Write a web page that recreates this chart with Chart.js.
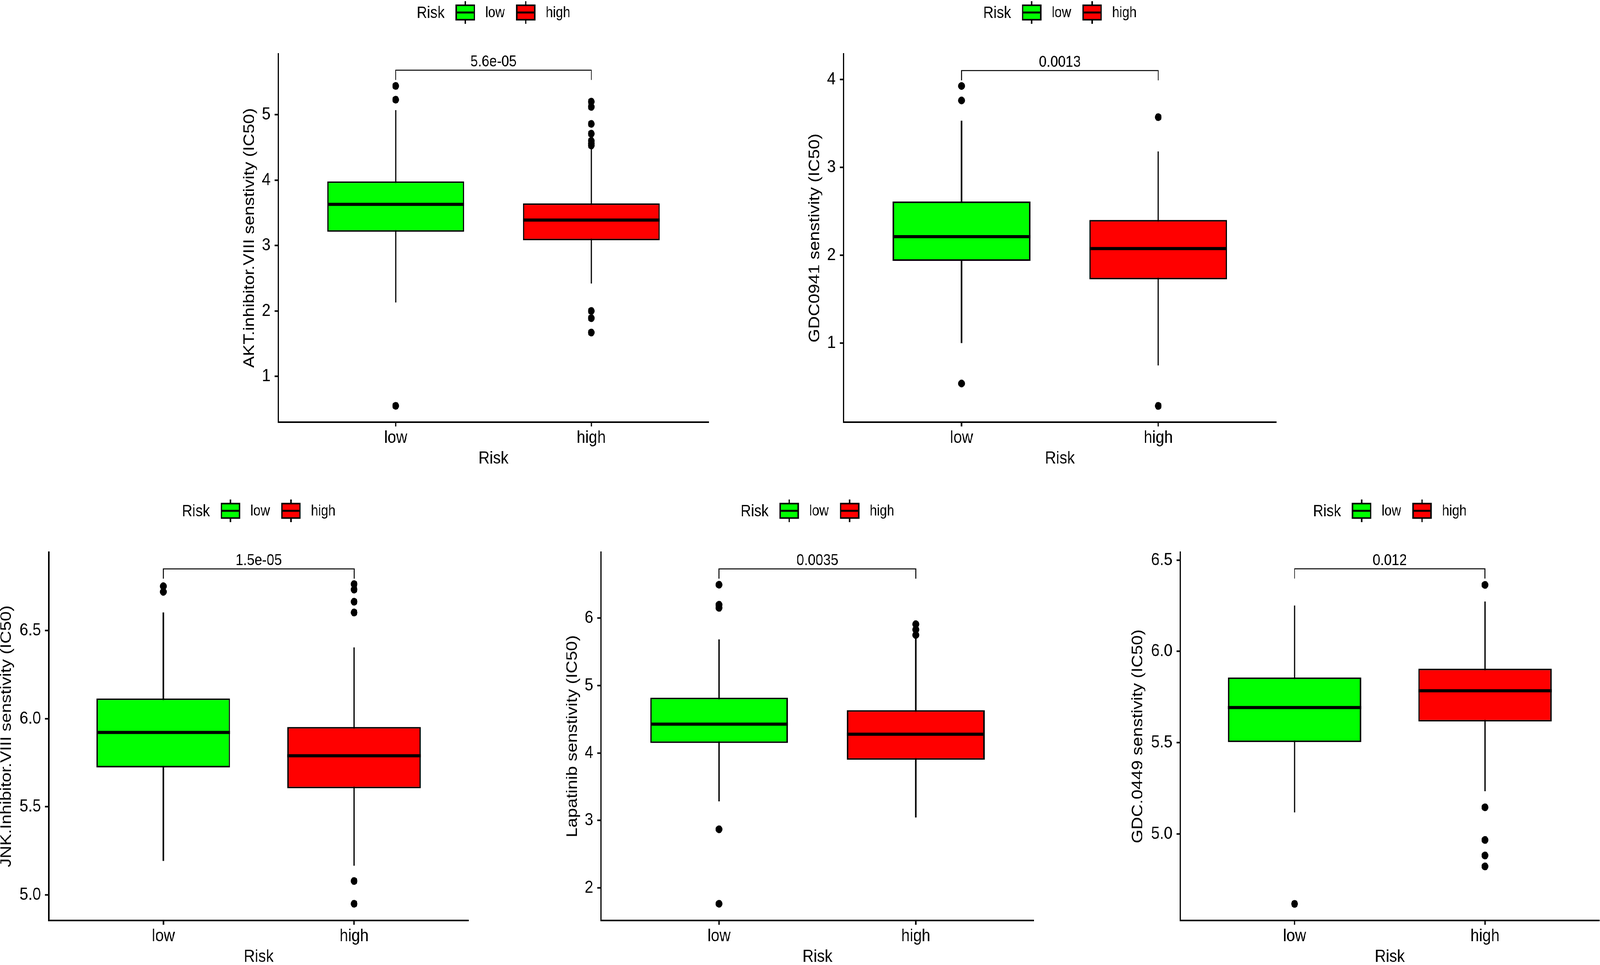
<!DOCTYPE html>
<html lang="en">
<head>
<meta charset="UTF-8">
<title>Drug sensitivity by risk group</title>
<script src="https://cdn.jsdelivr.net/npm/chart.js@4.4.0/dist/chart.umd.min.js"></script>
<style>
    html, body {
        margin: 0;
        padding: 0;
        background: #fff;
        overflow: hidden;
    }
    #page {
        width: 4685px;
        height: 2471px;
        position: absolute;
        left: 0;
        top: 0;
        transform-origin: 0 0;
        overflow: hidden;
    }
    canvas {
        position: absolute;
    }
</style>
</head>
<body>
<div id="page">
    <canvas id="c0"></canvas>
    <canvas id="c1"></canvas>
    <canvas id="c2"></canvas>
    <canvas id="c3"></canvas>
    <canvas id="c4"></canvas>
</div>

<script>
    const groups = ['low', 'high'];
    const yTitles = [
        'AKT.inhibitor.VIII senstivity (IC50)',
        'GDC0941 senstivity (IC50)',
        'JNK.Inhibitor.VIII senstivity (IC50)',
        'Lapatinib senstivity (IC50)',
        'GDC.0449 senstivity (IC50)'
    ];
    const pValues = ['5.6e-05', '0.0013', '1.5e-05', '0.0035', '0.012'];

    // box statistics per panel, each pair is [low, high]
    const q1 = [[3.21, 3.08], [1.935, 1.725], [5.724, 5.605], [4.149, 3.90], [5.503, 5.616]];
    const medians = [[3.63, 3.39], [2.21, 2.075], [5.922, 5.79], [4.428, 4.279], [5.692, 5.784]];
    const q3 = [[3.98, 3.645], [2.61, 2.40], [6.115, 5.953], [4.82, 4.635], [5.857, 5.905]];
    const whiskerLow = [[2.13, 2.42], [1.0, 0.745], [5.193, 5.166], [3.284, 3.045], [5.118, 5.234]];
    const whiskerHigh = [[5.07, 4.49], [3.53, 3.18], [6.603, 6.405], [5.685, 5.72], [6.251, 6.273]];
    const outliers = [
        [[5.44, 5.23, 0.55], [5.20, 5.12, 4.86, 4.71, 4.60, 4.56, 4.53, 2.00, 1.89, 1.67]],
        [[3.925, 3.76, 0.54], [3.57, 0.285]],
        [[6.752, 6.72], [6.764, 6.733, 6.664, 6.603, 5.079, 4.95]],
        [[6.495, 6.198, 6.153, 2.87, 1.766], [5.91, 5.83, 5.75]],
        [[4.617], [6.364, 5.146, 4.967, 4.882, 4.822]]
    ];

    const yLimits = [[0.30, 5.93], [0.10, 4.29], [4.855, 6.945], [1.518, 6.977], [4.526, 6.543]];
    const yTickLabels = [
        ['1', '2', '3', '4', '5'],
        ['1', '2', '3', '4'],
        ['5.0', '5.5', '6.0', '6.5'],
        ['2', '3', '4', '5', '6'],
        ['5.0', '5.5', '6.0', '6.5']
    ];
    const bracketY = [5.68, 4.10, 6.85, 6.73, 6.452];

    // where each plot area sits on the 4685x2471 page
    const panels = [
        {left: 815, right: 2075, top: 138, bottom: 1081, axisW: 110},
        {left: 2470, right: 3737, top: 138, bottom: 1081, axisW: 110},
        {left: 143, right: 1372, top: 1414, bottom: 2357, axisW: 150},
        {left: 1760, right: 3027, top: 1414, bottom: 2357, axisW: 110},
        {left: 3456, right: 4683, top: 1414, bottom: 2357, axisW: 150}
    ];

    const PAGE_W = 4685, PAGE_H = 2471;
    const FONT = '"Liberation Sans", Arial, Helvetica, sans-serif';
    const PAD_TOP = 138;
    const PAD_RIGHT = 10;
    const AXIS_H = 121;
    const fills = ['#00ff00', '#ff0000'];

    // the browser may clamp the window, so fit the fixed-size page into it
    const sx = window.innerWidth / PAGE_W;
    const sy = window.innerHeight / PAGE_H;
    document.getElementById('page').style.transform = `scale(${sx}, ${sy})`;
    const ratio = Math.max(1, Math.max(sx, sy) * (window.devicePixelRatio || 1));

    Chart.defaults.font.family = FONT;
    Chart.defaults.color = '#000';

    function drawKey(ctx, x, cy, color) {
        const w = 53, h = 37;
        ctx.lineWidth = 4;
        ctx.strokeStyle = '#000';
        ctx.beginPath();
        ctx.moveTo(x + w / 2, cy - 29);
        ctx.lineTo(x + w / 2, cy + 29);
        ctx.stroke();
        ctx.fillStyle = color;
        ctx.fillRect(x, cy - h / 2, w, h);
        ctx.strokeRect(x, cy - h / 2, w, h);
        ctx.lineWidth = 5;
        ctx.beginPath();
        ctx.moveTo(x, cy);
        ctx.lineTo(x + w, cy);
        ctx.stroke();
    }

    // medians, comparison bracket and the ggplot-style legend
    const boxExtras = {
        id: 'boxExtras',
        afterDatasetsDraw(chart, args, opts) {
            const p = opts.panel;
            const {ctx, scales: {x, y}} = chart;
            ctx.save();
            ctx.strokeStyle = '#000';
            ctx.lineWidth = 8;
            chart.getDatasetMeta(1).data.forEach((bar, i) => {
                const ym = y.getPixelForValue(medians[p][i]);
                ctx.beginPath();
                ctx.moveTo(bar.x - bar.width / 2, ym);
                ctx.lineTo(bar.x + bar.width / 2, ym);
                ctx.stroke();
            });

            const x1 = x.getPixelForValue(1);
            const x2 = x.getPixelForValue(2);
            const yb = y.getPixelForValue(bracketY[p]);
            ctx.lineWidth = 2.5;
            ctx.beginPath();
            ctx.moveTo(x1, yb + 25);
            ctx.lineTo(x1, yb);
            ctx.lineTo(x2, yb);
            ctx.lineTo(x2, yb + 25);
            ctx.stroke();
            ctx.fillStyle = '#000';
            ctx.font = '40px ' + FONT;
            ctx.textAlign = 'center';
            ctx.textBaseline = 'alphabetic';
            ctx.fillText(pValues[p], (x1 + x2) / 2, yb - 10);
            ctx.restore();
        },
        afterDraw(chart) {
            const {ctx, chartArea} = chart;
            const cx = (chartArea.left + chartArea.right) / 2;
            const cy = chartArea.top - 106;
            ctx.save();
            ctx.font = '42px ' + FONT;
            const wTitle = ctx.measureText('Risk').width;
            ctx.font = '38px ' + FONT;
            const wLabels = groups.map(g => ctx.measureText(g).width);
            const total = wTitle + 34 + 53 + 32 + wLabels[0] + 32 + 53 + 35 + wLabels[1];
            let xx = cx - total / 2;
            ctx.fillStyle = '#000';
            ctx.textAlign = 'left';
            ctx.textBaseline = 'middle';
            ctx.font = '42px ' + FONT;
            ctx.fillText('Risk', xx, cy + 2);
            xx += wTitle + 34;
            groups.forEach((g, i) => {
                drawKey(ctx, xx, cy, fills[i]);
                xx += 53 + 32;
                ctx.fillStyle = '#000';
                ctx.font = '38px ' + FONT;
                ctx.fillText(g, xx, cy + 2);
                xx += wLabels[i] + 32 + 3;
            });
            ctx.restore();
        }
    };

    panels.forEach((pn, p) => {
        const canvas = document.getElementById('c' + p);
        const left = pn.left - pn.axisW;
        const top = pn.top - PAD_TOP;
        canvas.width = pn.right + PAD_RIGHT - left;
        canvas.height = pn.bottom + AXIS_H - top;
        canvas.style.left = left + 'px';
        canvas.style.top = top + 'px';

        const tickValues = yTickLabels[p].map(Number);
        const points = [];
        outliers[p].forEach((list, i) => list.forEach(v => points.push({x: i + 1, y: v})));

        new Chart(canvas, {
            type: 'bar',
            data: {
                datasets: [
                    {
                        type: 'bar',
                        data: groups.map((g, i) => ({x: i + 1, y: [whiskerLow[p][i], whiskerHigh[p][i]]})),
                        backgroundColor: '#000',
                        borderWidth: 0,
                        maxBarThickness: 4,
                        grouped: false,
                        order: 3
                    },
                    {
                        type: 'bar',
                        data: groups.map((g, i) => ({x: i + 1, y: [q1[p][i], q3[p][i]]})),
                        backgroundColor: fills,
                        borderColor: '#000',
                        borderWidth: 4,
                        borderSkipped: false,
                        barPercentage: 0.70,
                        categoryPercentage: 1,
                        grouped: false,
                        order: 2
                    },
                    {
                        type: 'scatter',
                        data: points,
                        pointRadius: 10,
                        pointBackgroundColor: '#000',
                        pointBorderWidth: 0,
                        order: 1
                    }
                ]
            },
            options: {
                responsive: false,
                devicePixelRatio: ratio,
                animation: false,
                events: [],
                layout: {padding: {top: PAD_TOP, right: PAD_RIGHT, left: 0, bottom: 0}},
                plugins: {
                    legend: {display: false},
                    tooltip: {enabled: false},
                    boxExtras: {panel: p}
                },
                scales: {
                    x: {
                        type: 'linear',
                        min: 0.4,
                        max: 2.6,
                        offset: false,
                        afterBuildTicks: scale => { scale.ticks = [{value: 1}, {value: 2}]; },
                        afterFit: scale => { scale.height = AXIS_H; },
                        ticks: {
                            callback: v => groups[v - 1],
                            font: {size: 45},
                            padding: 3,
                            autoSkip: false,
                            maxRotation: 0
                        },
                        grid: {display: true, offset: false, drawOnChartArea: false, drawTicks: true, tickLength: 11, tickWidth: 4, tickColor: '#000'},
                        border: {display: true, color: '#000', width: 4},
                        title: {display: true, text: 'Risk', font: {size: 45}, padding: 0}
                    },
                    y: {
                        type: 'linear',
                        min: yLimits[p][0],
                        max: yLimits[p][1],
                        afterBuildTicks: scale => { scale.ticks = tickValues.map(v => ({value: v})); },
                        afterFit: scale => { scale.width = pn.axisW; },
                        ticks: {
                            callback: (v, i) => yTickLabels[p][i],
                            font: {size: 45},
                            padding: 12,
                            autoSkip: false
                        },
                        grid: {display: true, drawOnChartArea: false, drawTicks: true, tickLength: 11, tickWidth: 4, tickColor: '#000'},
                        border: {display: true, color: '#000', width: 4},
                        title: {display: true, text: yTitles[p], font: {size: 45}, padding: 0}
                    }
                }
            },
            plugins: [boxExtras]
        });
    });
</script>
</body>
</html>
